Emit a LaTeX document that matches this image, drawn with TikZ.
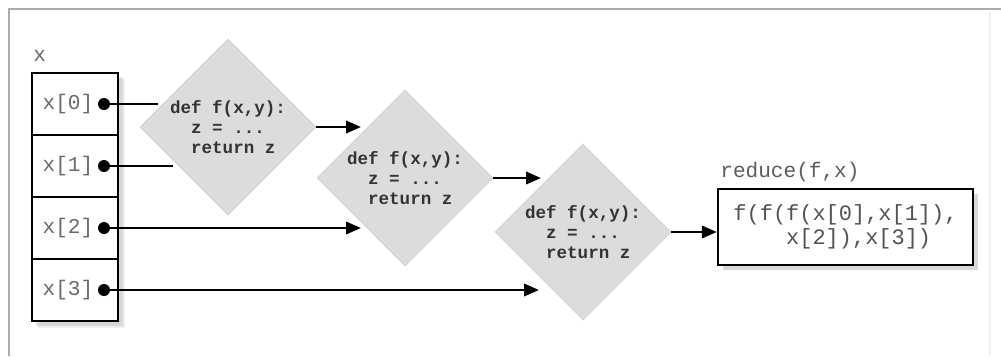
\documentclass[tikz,border=0pt]{standalone}
\usepackage{fontspec}
\setmonofont{Liberation Mono}
\usetikzlibrary{shapes.geometric,arrows.meta,shadows}
\definecolor{labgray}{HTML}{6A6A6A}
\definecolor{dtext}{HTML}{333333}
\definecolor{dfill}{HTML}{DCDCDC}
\begin{document}
\begin{tikzpicture}[x=0.02cm,y=-0.02cm,
  frame/.style={draw=gray!65,line width=1.6pt},
  cellbox/.style={draw=black,line width=1.4pt,minimum width=1.72cm,minimum height=1.24cm,inner sep=0pt},
  arrlab/.style={font=\ttfamily\fontsize{12}{14}\selectfont,text=labgray,inner sep=0pt},
  dotn/.style={circle,fill=black,minimum size=0.24cm,inner sep=0pt},
  fbox/.style={diamond,fill=dfill,draw=dfill!92!black,line width=0.3pt,minimum width=3.52cm,minimum height=3.52cm,inner sep=0pt,
    font=\ttfamily\bfseries\fontsize{10}{11.5}\selectfont,text=dtext,align=left},
  conn/.style={line width=1.5pt},
  arr/.style={conn,-{Triangle[length=8.5pt,width=7pt]}},
  shad/.style={drop shadow={shadow xshift=3pt,shadow yshift=-3pt,opacity=0.15,fill=black}}
]
\useasboundingbox (0,0) rectangle (1001,356);
% frame
\draw[frame] (9,356) -- (9,9) -- (1001,9);
\draw[draw=gray!12,line width=0.8pt] (990,12) -- (990,356);

% diamonds
\node[fbox] (d1) at (228,127) {def f(x,y):\\\hphantom{xx}z = ...\\\hphantom{xx}return z};
\node[fbox] (d2) at (405,178) {def f(x,y):\\\hphantom{xx}z = ...\\\hphantom{xx}return z};
\node[fbox] (d3) at (583,232) {def f(x,y):\\\hphantom{xx}z = ...\\\hphantom{xx}return z};

% array
\node[arrlab,anchor=base west] (xlab) at (33,61) {x};
\fill[black,opacity=0.10] (36,77) rectangle (123,326);
\fill[black,opacity=0.06] (38,79) rectangle (125,328);
\node[cellbox,fill=white] (c0) at (75,104) {};
\node[cellbox,fill=white] (c1) at (75,166) {};
\node[cellbox,fill=white] (c2) at (75,228) {};
\node[cellbox,fill=white] (c3) at (75,290) {};
\node[arrlab] (l0) at (68,104) {x[0]};
\node[arrlab] (l1) at (68,166) {x[1]};
\node[arrlab] (l2) at (68,228) {x[2]};
\node[arrlab] (l3) at (68,290) {x[3]};
\node[dotn] (p0) at (104,104) {};
\node[dotn] (p1) at (104,166) {};
\node[dotn] (p2) at (104,228) {};
\node[dotn] (p3) at (104,290) {};

% result
\node[arrlab,anchor=base west,text=dtext!80] (rlab) at (720,177) {reduce(f,x)};
\node[draw=black,line width=1.4pt,fill=white,shad,minimum width=5.1cm,minimum height=1.52cm,inner sep=0pt,
  font=\ttfamily\fontsize{12.5}{14}\selectfont,text=dtext!85,align=left] (res) at (845.5,227)
  {f(f(f(x[0],x[1]),\\\hphantom{xxxx}x[2]),x[3])};

% connectors
\coordinate (e0) at (158,104);
\coordinate (e1) at (173,166);
\coordinate (e2) at (361,228);
\coordinate (e3) at (539,290);
\draw[conn] (p0) -- (e0);
\draw[conn] (p1) -- (e1);
\draw[arr] (p2) -- (e2);
\draw[arr] (p3) -- (e3);
\coordinate (a1) at (361,127);
\coordinate (a2) at (541,178);
\draw[arr] (d1.east) -- (a1);
\draw[arr] (d2.east) -- (a2);
\draw[arr] (d3.east) -- (d3.east -| res.west);
\end{tikzpicture}
\end{document}
